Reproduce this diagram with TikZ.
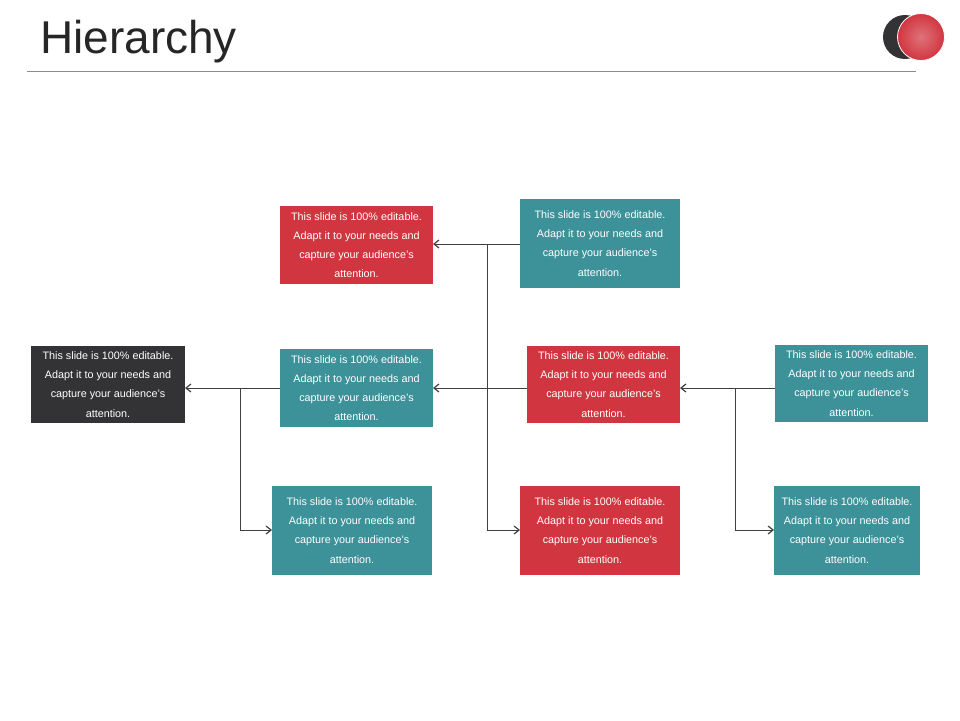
\documentclass[tikz,border=0pt]{standalone}
\usepackage{fontspec}
\setmainfont{Liberation Sans}
\usetikzlibrary{arrows.meta}
\definecolor{cred}{HTML}{D13640}
\definecolor{cteal}{HTML}{3D9199}
\definecolor{cdark}{HTML}{333335}
\begin{document}
\begin{tikzpicture}[x=1pt,y=-1pt,
  box/.style={inner sep=0pt,text=white,align=center,font=\fontsize{10.8}{19.2}\selectfont},
  conn/.style={draw=black!75,line width=0.9pt},
  arr/.style={conn,-{Straight Barb[length=5pt,width=8pt,line width=1.2pt]}}]
\useasboundingbox (0,0) rectangle (960,720);
\node[anchor=base west,font=\fontsize{46}{46}\selectfont,text=black!85,inner sep=0pt] (title) at (40,53) {Hierarchy};
\draw[black!45,line width=0.8pt] (27,71) coordinate (l1) -- (916,71) coordinate (l2);
\fill[cdark] (905,37) circle (22);
\shade[inner color=cred!70,outer color=cred, draw=white,line width=0.8pt] (921,37) circle (23.5);
\newcommand{\bx}[6]{\fill[#6] (#2,#3) rectangle (#4,#5);
  \node[box] (#1) at ({(#2+#4)/2},{(#3+#5)/2}) {This slide is 100\% editable.\\Adapt it to your needs and\\capture your audience’s\\attention.};}
\bx{tr}{520}{199}{680}{288}{cteal}
\bx{tl}{280}{206}{433}{284}{cred}
\bx{mc}{527}{346}{680}{423}{cred}
\bx{ml}{280}{349}{433}{427}{cteal}
\bx{lb}{31}{346}{185}{423}{cdark}
\bx{bl}{272}{486}{432}{575}{cteal}
\bx{bc}{520}{486}{680}{575}{cred}
\bx{mr}{775}{345}{928}{422}{cteal}
\bx{br}{774}{486}{920}{575}{cteal}
\coordinate (j1) at (487,244);
\coordinate (j2) at (487,530);
\draw[arr] (520,244) -- (433,244);
\draw[arr] (j1) -- (j2) -- (520,530);
\draw[arr] (527,388) -- (433,388);
\draw[arr] (280,388) -- (185,388);
\draw[arr] (240,388) -- (240,530) -- (272,530);
\draw[arr] (775,388) -- (680,388);
\draw[arr] (735,388) -- (735,530) -- (774,530);
\end{tikzpicture}
\end{document}
